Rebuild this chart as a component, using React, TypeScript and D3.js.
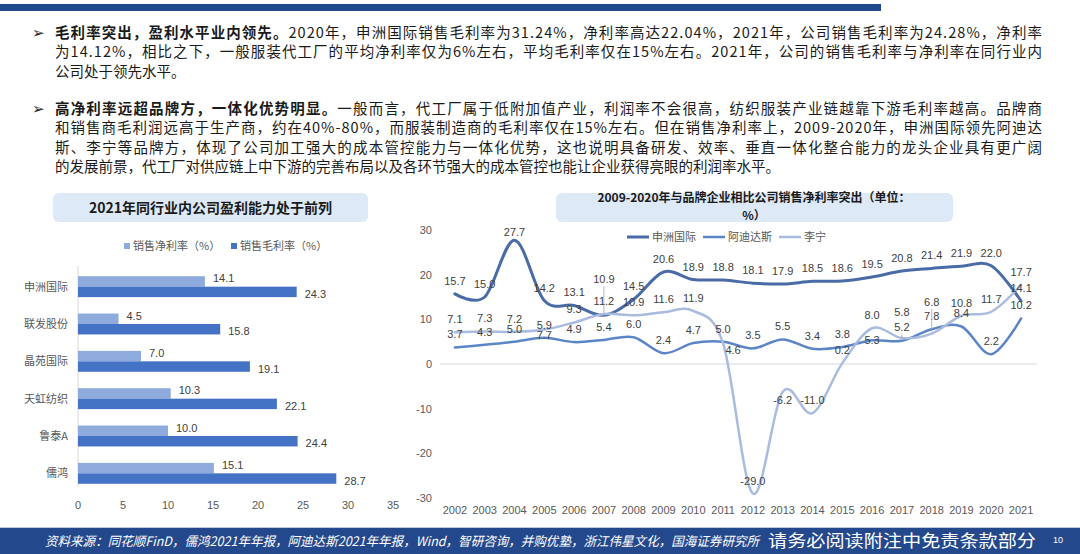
import * as d3 from "d3";

const W = 1080;
const H = 554;

// left chart data
const companies = ["申洲国际", "联发股份", "晶苑国际", "天虹纺织", "鲁泰A", "儒鸿"];
const netMargin2021 = [14.1, 4.5, 7.0, 10.3, 10.0, 15.1];
const grossMargin2021 = [24.3, 15.8, 19.1, 22.1, 24.4, 28.7];
const barSeries = ["销售净利率（%）", "销售毛利率（%）"];
const barTicks = [0, 5, 10, 15, 20, 25, 30, 35];

// right chart data
const years = ["2002", "2003", "2004", "2005", "2006", "2007", "2008", "2009", "2010", "2011",
  "2012", "2013", "2014", "2015", "2016", "2017", "2018", "2019", "2020", "2021"];
const shenzhou = [15.7, 15.0, 27.7, 14.2, 13.1, 10.9, 14.5, 20.6, 18.9, 18.8, 18.1, 17.9, 18.5, 18.6, 19.5, 20.8, 21.4, 21.9, 22.0, 14.1];
const adidas = [3.7, 4.3, 5.0, 5.9, 4.9, 5.4, 6.0, 2.4, 4.7, 5.0, 3.5, 5.5, 3.4, 3.8, 5.3, 5.2, 7.8, 8.4, 2.2, 10.2];
const lining = [7.1, 7.3, 7.2, 7.7, 9.3, 11.2, 10.9, 11.6, 11.9, 4.6, -29.0, -6.2, -11.0, 0.2, 8.0, 5.8, 6.8, 10.8, 11.7, 17.7];
const lineNames = ["申洲国际", "阿迪达斯", "李宁"];
const lineTicks = [-30, -20, -10, 0, 10, 20, 30];

const BAR_COLORS = ["#8FAADC", "#4472C4"];
const LINE_COLORS = ["#4a6ca6", "#5b85c6", "#a9bbdf"];
const LINE_WIDTHS = [3, 2.5, 2.5];

// manual nudges of data labels (layout only)
const LABEL_NUDGE: Record<string, { dy?: number; dx?: number; leader?: boolean }> = {
  "申洲国际-2004": { dy: -8 },
  "申洲国际-2007": { dy: -36, leader: true },
  "李宁-2005": { dy: 5 },
  "李宁-2011": { dy: 7, dx: 10 },
  "李宁-2013": { dy: 8 },
  "李宁-2017": { dy: -26 },
  "李宁-2018": { dy: -32, leader: true },
  "阿迪达斯-2016": { dy: 0 },
  "阿迪达斯-2017": { dy: -14, leader: true },
};

const CJK = "'Noto Sans CJK SC', 'Noto Sans', sans-serif";
const LAT = "'Liberation Sans', 'Noto Sans CJK SC', sans-serif";

const para1 = [
  { bold: "毛利率突出，盈利水平业内领先。", text: "2020年，申洲国际销售毛利率为31.24%，净利率高达22.04%，2021年，公司销售毛利率为24.28%，净利率", full: true },
  { bold: "", text: "为14.12%，相比之下，一般服装代工厂的平均净利率仅为6%左右，平均毛利率仅在15%左右。2021年，公司的销售毛利率与净利率在同行业内", full: true },
  { bold: "", text: "公司处于领先水平。", full: false },
];
const para2 = [
  { bold: "高净利率远超品牌方，一体化优势明显。", text: "一般而言，代工厂属于低附加值产业，利润率不会很高，纺织服装产业链越靠下游毛利率越高。品牌商", full: true },
  { bold: "", text: "和销售商毛利润远高于生产商，约在40%-80%，而服装制造商的毛利率仅在15%左右。但在销售净利率上，2009-2020年，申洲国际领先阿迪达", full: true },
  { bold: "", text: "斯、李宁等品牌方，体现了公司加工强大的成本管控能力与一体化优势，这也说明具备研发、效率、垂直一体化整合能力的龙头企业具有更广阔", full: true },
  { bold: "", text: "的发展前景，代工厂对供应链上中下游的完善布局以及各环节强大的成本管控也能让企业获得亮眼的利润率水平。", full: false },
];

const Paragraph = ({ lines, y0 }: { lines: typeof para1; y0: number }) => (
  <g>
    <text x={32} y={y0} fontSize={15} fontWeight="bold" fontFamily="'DejaVu Sans'" fill="#222">➢</text>
    {lines.map((l, i) => (
      <text
        key={i}
        x={55}
        y={y0 + i * 19.3}
        fontSize={14.5}
        fontFamily={CJK}
        fill="#1a1a1a"
        textLength={l.full ? 987 : undefined}
        lengthAdjust="spacing"
      >
        {l.bold && <tspan fontWeight="bold">{l.bold}</tspan>}
        <tspan>{l.text}</tspan>
      </text>
    ))}
  </g>
);

const BarChart = () => {
  const x = d3.scaleLinear().domain([0, 35]).range([78, 393]);
  const y = d3.scaleBand().domain(companies).range([268, 492]).paddingInner(0.44).paddingOuter(0.22);
  const inner = d3.scaleBand().domain(["net", "gross"]).range([0, y.bandwidth()]);
  const rows = companies.map((c, i) => ({ c, net: netMargin2021[i], gross: grossMargin2021[i] }));

  return (
    <g fontFamily={LAT}>
      <rect x={53} y={193} width={315} height={29} rx={6} fill="#dde9f6" />
      <text x={210.5} y={213} textAnchor="middle" fontSize={14} fontWeight="bold" fontFamily={CJK} fill="#1a1a1a">
        2021年同行业内公司盈利能力处于前列
      </text>
      {barSeries.map((s, i) => (
        <g key={s} transform={`translate(${[124, 231][i]},246)`}>
          <rect x={0} y={-3} width={6} height={6} fill={BAR_COLORS[i]} />
          <text x={9} y={4} fontSize={11} fill="#595959" fontFamily={CJK}>{s}</text>
        </g>
      ))}
      <line x1={78} x2={78} y1={266} y2={486} stroke="#d9d9d9" />
      {rows.map((r) => {
        const y0 = y(r.c)!;
        return (
          <g key={r.c}>
            <text x={68} y={y0 + y.bandwidth() / 2 + 4} textAnchor="end" fontSize={11} fill="#595959" fontFamily={CJK}>
              {r.c}
            </text>
            <rect x={x(0)} y={y0 + inner("net")!} width={x(r.net) - x(0)} height={inner.bandwidth()} fill={BAR_COLORS[0]} />
            <rect x={x(0)} y={y0 + inner("gross")!} width={x(r.gross) - x(0)} height={inner.bandwidth()} fill={BAR_COLORS[1]} />
            <text x={x(r.net) + 8} y={y0 + inner("net")! + inner.bandwidth() / 2 + 1} fontSize={11} fill="#404040">
              {r.net.toFixed(1)}
            </text>
            <text x={x(r.gross) + 8} y={y0 + inner("gross")! + inner.bandwidth() / 2 + 6} fontSize={11} fill="#404040">
              {r.gross.toFixed(1)}
            </text>
          </g>
        );
      })}
      {barTicks.map((t) => (
        <text key={t} x={x(t)} y={509} textAnchor="middle" fontSize={11} fill="#595959">{t}</text>
      ))}
    </g>
  );
};

const LineChart = () => {
  const x = d3.scaleBand().domain(years).range([440, 1036]);
  const cx = (yr: string) => x(yr)! + x.bandwidth() / 2;
  const y = d3.scaleLinear().domain([-30, 30]).range([498, 230]);
  const series = [shenzhou, adidas, lining];
  const line = d3
    .line<number>()
    .x((_, i) => cx(years[i]))
    .y((d) => y(d))
    .curve(d3.curveCardinal.tension(0));

  return (
    <g fontFamily={LAT}>
      <rect x={556} y={193} width={397} height={29} rx={6} fill="#dde9f6" />
      <text textAnchor="middle" fontSize={12} fontWeight="bold" fontFamily={CJK} fill="#1a1a1a">
        <tspan x={754} y={201.5}>2009-2020年与品牌企业相比公司销售净利率突出（单位：</tspan>
        <tspan x={754} y={219.5}>%）</tspan>
      </text>
      {lineNames.map((n, i) => {
        const lx = [627, 703, 779][i];
        return (
          <g key={n}>
            <line x1={lx} x2={lx + 22} y1={237} y2={237} stroke={LINE_COLORS[i]} strokeWidth={LINE_WIDTHS[i]} />
            <text x={lx + 25} y={241} fontSize={11} fill="#595959" fontFamily={CJK}>{n}</text>
          </g>
        );
      })}
      {lineTicks.map((t) => (
        <text key={t} x={432} y={y(t) + 4} textAnchor="end" fontSize={11} fill="#595959">{t}</text>
      ))}
      <line x1={440} x2={1037} y1={y(0)} y2={y(0)} stroke="#d9d9d9" />
      {years.map((yr) => (
        <text key={yr} x={cx(yr)} y={514} textAnchor="middle" fontSize={11} fill="#595959">{yr}</text>
      ))}
      {series.map((s, i) => (
        <path key={i} d={line(s) ?? ""} fill="none" stroke={LINE_COLORS[i]} strokeWidth={LINE_WIDTHS[i]} strokeLinecap="round" />
      ))}
      {series.map((s, i) =>
        s.map((v, j) => {
          const key = `${lineNames[i]}-${years[j]}`;
          const nudge = LABEL_NUDGE[key] ?? {};
          const dy = nudge.dy ?? -13;
          const px = cx(years[j]) + (nudge.dx ?? 0);
          const py = y(v) + dy;
          return (
            <g key={key}>
              {nudge.leader && (
                <line x1={cx(years[j])} x2={cx(years[j])} y1={py + 7} y2={y(v) - 2} stroke="#a6a6a6" strokeWidth={0.8} />
              )}
              <text x={px} y={py + 4} textAnchor="middle" fontSize={11} fill="#404040">
                {v.toFixed(1)}
              </text>
            </g>
          );
        })
      )}
    </g>
  );
};

export default function App() {
  return (
    <svg width={W} height={H} style={{ position: "absolute", left: 0, top: 0, background: "#fff" }}>
      <rect x={0} y={4} width={881} height={7} fill="#1f4a8a" />
      <Paragraph lines={para1} y0={38} />
      <Paragraph lines={para2} y0={114} />
      <BarChart />
      <LineChart />
      <line x1={0} x2={W} y1={527.5} y2={527.5} stroke="#b9c8e2" />
      <rect x={0} y={528} width={W} height={26} fill="#24488c" />
      <text x={45} y={546} fontSize={13} fontStyle="italic" fill="#fff" fontFamily={CJK} textLength={714} lengthAdjust="spacingAndGlyphs">
        资料来源：同花顺FinD，儒鸿2021年年报，阿迪达斯2021年年报，Wind，智研咨询，并购优塾，浙江伟星文化，国海证券研究所
      </text>
      <text x={768} y={547} fontSize={17} fill="#fff" fontFamily={CJK} textLength={268} lengthAdjust="spacingAndGlyphs">
        请务必阅读附注中免责条款部分
      </text>
      <text x={1058} y={543} fontSize={9} fill="#fff" fontFamily={LAT} textAnchor="middle">10</text>
    </svg>
  );
}
